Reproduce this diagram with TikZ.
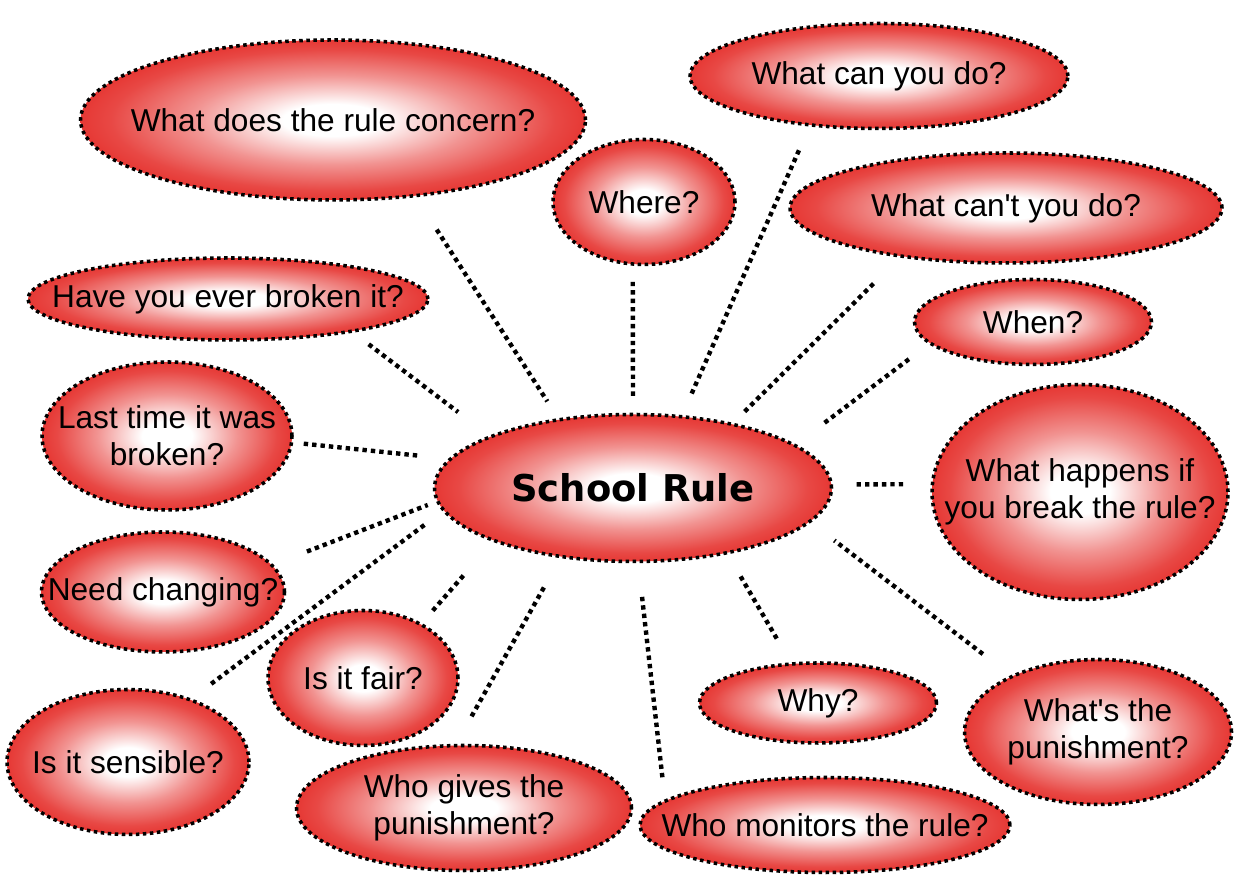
\documentclass[tikz,border=0pt]{standalone}
\usepackage{fontspec}
\setmainfont{Liberation Sans}[Ligatures=TeXOff]
\newfontfamily\rulefont{DejaVu Sans}
\usetikzlibrary{shapes}

\definecolor{bubred}{RGB}{228,40,36}
\colorlet{bubpink}{bubred!50!white}
\colorlet{bubmid}{bubred!85!white}
\pgfdeclareradialshading{bubble}{\pgfpointorigin}{color(0bp)=(white); color(5bp)=(white); color(14bp)=(bubpink); color(22bp)=(bubmid); color(28bp)=(bubred); color(50bp)=(bubred)}

\begin{document}
\begin{tikzpicture}[
	bubble/.style={ellipse, draw=black, shade, shading=bubble, line width=2pt, dash pattern=on 2pt off 2pt, inner sep=0pt},
	qtext/.style={font=\fontsize{18}{21}\selectfont, align=center, text=black},
	rtext/.style={font=\rulefont\bfseries\fontsize{21}{25}\selectfont, text=black},
	link/.style={line width=2.5pt, dash pattern=on 2.5pt off 2.3pt}
	]
	\useasboundingbox (0,0) rectangle (24.72,17.68);
	
	\node[bubble, minimum width=7.94cm, minimum height=2.94cm, label={[rtext]center:School Rule}] (rule) at (12.66,7.92) {};
	
	\node[bubble, minimum width=10.1cm, minimum height=3.2cm, label={[qtext]center:What does the rule concern?}] (concern) at (6.66,15.28) {};
	\node[bubble, minimum width=3.64cm, minimum height=2.5cm, label={[qtext]center:Where?}] (where) at (12.88,13.64) {};
	\node[bubble, minimum width=7.56cm, minimum height=2.1cm, label={[qtext]center:What can you do?}] (cando) at (17.58,16.16) {};
	\node[bubble, minimum width=8.64cm, minimum height=2.2cm, label={[qtext]center:What can't you do?}] (cant) at (20.12,13.52) {};
	\node[bubble, minimum width=4.74cm, minimum height=1.7cm, label={[qtext]center:When?}] (when) at (20.66,11.24) {};
	\node[bubble, minimum width=5.92cm, minimum height=4.3cm, label={[qtext]center:{What happens if\\you break the rule?}}] (happens) at (21.6,7.84) {};
	\node[bubble, minimum width=5.34cm, minimum height=2.9cm, label={[qtext]center:{What's the\\punishment?}}] (punish) at (21.96,3.04) {};
	\node[bubble, minimum width=4.74cm, minimum height=1.6cm, label={[qtext]center:Why?}] (why) at (16.36,3.62) {};
	\node[bubble, minimum width=7.4cm, minimum height=1.9cm, label={[qtext]center:Who monitors the rule?}] (monitors) at (16.5,1.18) {};
	\node[bubble, minimum width=6.7cm, minimum height=2.5cm, label={[qtext]center:{Who gives the\\punishment?}}] (gives) at (9.28,1.52) {};
	\node[bubble, minimum width=3.8cm, minimum height=2.7cm, label={[qtext]center:Is it fair?}] (fair) at (7.26,4.12) {};
	\node[bubble, minimum width=4.84cm, minimum height=2.9cm, label={[qtext]center:Is it sensible?}] (sensible) at (2.56,2.44) {};
	\node[bubble, minimum width=4.86cm, minimum height=2.4cm, label={[qtext]center:Need changing?}] (changing) at (3.26,5.84) {};
	\node[bubble, minimum width=5.0cm, minimum height=2.96cm, label={[qtext]center:{Last time it was\\broken?}}] (lasttime) at (3.34,8.96) {};
	\node[bubble, minimum width=8.0cm, minimum height=1.64cm, label={[qtext]center:Have you ever broken it?}] (broken) at (4.56,11.7) {};
	
	\draw[link, shorten <=0.77cm, shorten >=0.4cm] (concern.-43) -- (rule.137);
	\draw[link, shorten <=0.32cm, shorten >=0.29cm] (where.-100) -- (rule.90);
	\draw[link, shorten <=0.52cm, shorten >=0.47cm] (cando.-144) -- (rule.56);
	\draw[link, shorten <=0.74cm, shorten >=0.26cm] (cant.-155) -- (rule.33);
	\draw[link, shorten <=0.5cm, shorten >=0.66cm] (when.-168) -- (rule.15);
	\draw[link, shorten <=0.55cm, shorten >=0.42cm] (happens.177) -- (rule.1);
	\draw[link, shorten <=0.7cm, shorten >=0.59cm] (punish.147) -- (rule.-11);
	\draw[link, shorten <=0.55cm, shorten >=0.44cm] (why.124) -- (rule.-35);
	\draw[link, shorten <=0.45cm, shorten >=0.61cm] (monitors.171) -- (rule.-86);
	\draw[link, shorten <=0.63cm, shorten >=0.6cm] (gives.97) -- (rule.-136);
	\draw[link, shorten <=0.33cm, shorten >=0.83cm] (fair.43) -- (rule.-159);
	\draw[link, shorten <=0.49cm, shorten >=0.39cm] (sensible.45) -- (rule.-173);
	\draw[link, shorten <=0.72cm, shorten >=0.18cm] (changing.14) -- (rule.-176);
	\draw[link, shorten <=0.21cm, shorten >=0.63cm] (lasttime.-3) -- (rule.171);
	\draw[link, shorten <=0.39cm, shorten >=0.78cm] (broken.-15) -- (rule.160);
\end{tikzpicture}
\end{document}
